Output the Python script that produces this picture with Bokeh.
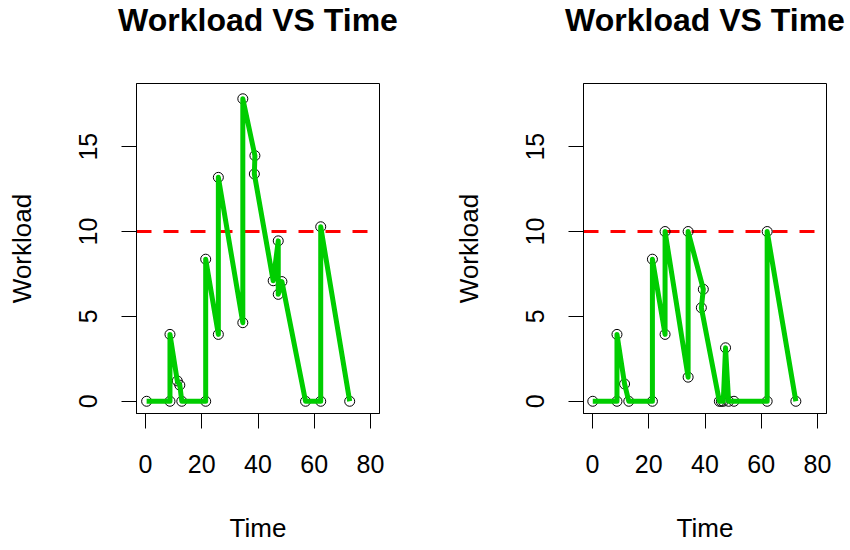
from bokeh.plotting import figure
from bokeh.layouts import row
from bokeh.models import (Span, ColumnDataSource, FixedTicker, Title, LinearAxis,
                          CustomJSTickFormatter)
from bokeh.embed import file_html
from bokeh.resources import INLINE

# Panel 1 data
time1 = [0.4, 8.7, 8.7, 11.3, 12.2, 12.9, 21.4, 21.4, 25.9, 25.9, 34.6, 34.6,
         38.9, 38.7, 45.4, 47.2, 47.2, 48.5, 56.9, 62.3, 62.3, 72.6]
work1 = [0, 0, 3.94, 1.2, 0.95, 0, 0, 8.37, 3.94, 13.19, 4.63, 17.82,
         14.47, 13.39, 7.1, 9.45, 6.3, 7.05, 0, 0, 10.28, 0]

# Panel 2 data
time2 = [0.1, 8.7, 8.7, 11.4, 12.9, 21.3, 21.3, 25.8, 25.8, 34.0, 34.0, 39.4,
         38.7, 45.1, 45.8, 46.5, 47.3, 48.4, 50.3, 62.1, 62.1, 72.3]
work2 = [0, 0, 3.94, 1.02, 0, 0, 8.37, 3.94, 10.0, 1.42, 10.0, 6.6,
         5.51, 0, 0, 0, 3.15, 0, 0, 0, 10.0, 0]

threshold = 10
x_ticks = [0, 20, 40, 60, 80]
y_ticks = [0, 5, 10, 15]
title_text = "Workload VS Time"
x_label = "Time"
y_label = "Workload"

FONT = "Liberation Sans"
X_RANGE = (-3.2, 83.2)
Y_RANGE = (-0.72, 18.72)


def make_panel(t, w, width, left, right):
    p = figure(width=width, height=550, x_range=X_RANGE, y_range=Y_RANGE,
               output_backend="svg", toolbar_location=None,
               min_border_left=left, min_border_right=right,
               min_border_top=83, min_border_bottom=137)
    p.background_fill_color = "white"
    p.border_fill_color = "white"
    p.outline_line_color = "black"
    p.outline_line_width = 1
    p.xgrid.visible = False
    p.ygrid.visible = False

    for ax in (p.xaxis[0], p.yaxis[0]):
        ax.axis_line_color = "black"
        ax.major_tick_line_color = "black"
        ax.major_tick_out = 15
        ax.major_tick_in = 0
        ax.minor_tick_out = 0
        ax.minor_tick_in = 0
        ax.major_label_text_font = FONT
        ax.major_label_text_font_size = "25px"
        ax.major_label_text_color = "black"
        ax.axis_label_text_font = FONT
        ax.axis_label_text_font_size = "26px"
        ax.axis_label_text_font_style = "normal"
        ax.axis_label_text_color = "black"

    p.xaxis.ticker = FixedTicker(ticks=x_ticks)
    p.yaxis.ticker = FixedTicker(ticks=y_ticks)
    p.xaxis.axis_label = x_label
    p.yaxis.axis_label = y_label
    p.xaxis.major_label_standoff = 26
    p.xaxis.axis_label_standoff = 37
    p.yaxis.major_label_orientation = "vertical"
    p.yaxis.major_label_standoff = 24
    p.yaxis.axis_label_standoff = 40

    # invisible spacer above the frame (hidden tick, empty label), then the title
    spacer = LinearAxis(ticker=FixedTicker(ticks=[x_ticks[2]]),
                        formatter=CustomJSTickFormatter(code="return ''"),
                        axis_line_color=None,
                        major_tick_line_color=None, minor_tick_line_color=None,
                        major_tick_out=43, major_tick_in=0,
                        minor_tick_out=0, minor_tick_in=0,
                        major_label_text_font_size="1px",
                        major_label_standoff=0, axis_label_standoff=0)
    p.add_layout(spacer, "above")
    title = Title(text=title_text, text_font=FONT, text_font_size="32px",
                  text_font_style="bold", text_color="black", align="center",
                  vertical_align="top", standoff=2)
    p.add_layout(title, "above")

    span = Span(location=threshold, dimension="width", line_color="red",
                line_dash="15 12", line_width=3, level="underlay")
    p.add_layout(span)

    src = ColumnDataSource(data=dict(t=t, w=w))
    p.scatter("t", "w", source=src, marker="circle", size=10,
              fill_color=None, line_color="black", line_width=1)
    p.line("t", "w", source=src, line_color="#00CD00", line_width=5,
           line_join="round")
    return p


p1 = make_panel(time1, work1, 446, 136, 67)
p2 = make_panel(time2, work2, 404, 137, 24)

layout = row(p1, p2)
open("out.html", "w").write(file_html(layout, INLINE))
